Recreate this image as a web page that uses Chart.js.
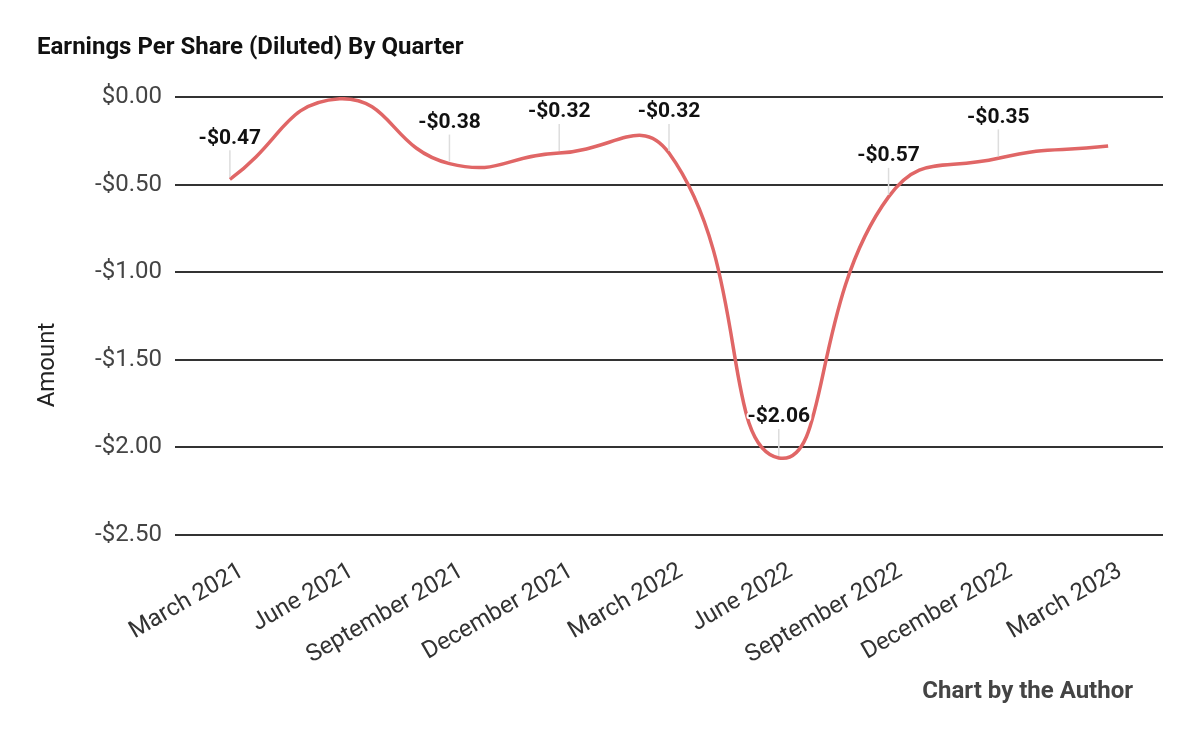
<!DOCTYPE html>
<html lang="en">

<head>
    <meta charset="UTF-8">
    <script src="https://cdn.jsdelivr.net/npm/chart.js"></script>
    <title>Earnings Per Share (Diluted) By Quarter</title>
    <style>
        html, body { margin: 0; padding: 0; background: #fff; }
        #wrap { width: 1200px; height: 742px; }
    </style>
</head>

<body>
    <div id="wrap"><canvas id="myChart" width="1200" height="742"></canvas></div>
    <script>
        // Données
        const quarters = ['March 2021', 'June 2021', 'September 2021', 'December 2021', 'March 2022',
            'June 2022', 'September 2022', 'December 2022', 'March 2023'];
        const eps = [-0.47, -0.01, -0.38, -0.32, -0.32, -2.06, -0.57, -0.35, -0.28];
        // annotations shown on the chart (null = none)
        const pointLabels = ['-$0.47', null, '-$0.38', '-$0.32', '-$0.32', '-$2.06', '-$0.57', '-$0.35', null];
        const yTicks = [0, -0.5, -1, -1.5, -2, -2.5];

        const money = (v) => (v < 0 ? '-$' : '$') + Math.abs(v).toFixed(2);

        // titre, titre d'axe, annotations, pied
        const decorations = {
            id: 'decorations',
            afterDatasetsDraw(chart) {
                const ctx = chart.ctx;
                const meta = chart.getDatasetMeta(0);
                ctx.save();
                meta.data.forEach((pt, i) => {
                    if (!pointLabels[i]) return;
                    const x = pt.x, y = pt.y;
                    ctx.strokeStyle = '#dddddd';
                    ctx.lineWidth = 1.5;
                    ctx.beginPath();
                    ctx.moveTo(x, y - 2);
                    ctx.lineTo(x, y - 29);
                    ctx.stroke();
                    ctx.font = 'bold 21px Roboto';
                    ctx.textAlign = 'center';
                    ctx.textBaseline = 'middle';
                    ctx.lineJoin = 'round';
                    ctx.strokeStyle = '#ffffff';
                    ctx.lineWidth = 4;
                    ctx.strokeText(pointLabels[i], x, y - 41);
                    ctx.fillStyle = '#111111';
                    ctx.fillText(pointLabels[i], x, y - 41);
                });
                ctx.restore();
            },
            afterDraw(chart) {
                const ctx = chart.ctx;
                ctx.save();
                ctx.fillStyle = '#111111';
                ctx.font = 'bold 24px Roboto';
                ctx.textAlign = 'left';
                ctx.textBaseline = 'middle';
                ctx.fillText('Earnings Per Share (Diluted) By Quarter', 37, 48);

                ctx.fillStyle = '#444444';
                ctx.font = 'bold 24px Roboto';
                ctx.textAlign = 'right';
                ctx.fillText('Chart by the Author', 1133, 692);

                ctx.translate(48, 365);
                ctx.rotate(-Math.PI / 2);
                ctx.fillStyle = '#222222';
                ctx.font = '24px Roboto';
                ctx.textAlign = 'center';
                ctx.fillText('Amount', 0, 0);
                ctx.restore();
            }
        };

        const chartConfig = {
            type: 'line',
            data: {
                labels: quarters,
                datasets: [{
                    label: 'EPS',
                    data: eps,
                    borderColor: '#e06666',
                    borderWidth: 3.5,
                    tension: 0.5,
                    pointRadius: 0,
                    fill: false,
                }],
            },
            options: {
                responsive: false,
                animation: false,
                layout: { padding: { top: 97, right: 37, bottom: 0, left: 0 } },
                plugins: {
                    legend: { display: false },
                    tooltip: { enabled: false },
                },
                scales: {
                    x: {
                        offset: true,
                        grid: { display: false },
                        border: { display: false },
                        ticks: {
                            minRotation: 30,
                            maxRotation: 30,
                            autoSkip: false,
                            padding: 14,
                            labelOffset: 12,
                            color: '#333333',
                            font: { family: 'Roboto', size: 24 },
                        },
                        afterFit(scale) { scale.height = 742 - 535; },
                    },
                    y: {
                        min: -2.5,
                        max: 0,
                        afterBuildTicks(scale) { scale.ticks = yTicks.map(v => ({ value: v })); },
                        grid: { color: '#333333', lineWidth: 2, drawTicks: false },
                        border: { display: false },
                        ticks: {
                            padding: 13,
                            color: '#444444',
                            font: { family: 'Roboto', size: 24 },
                            callback: (v) => money(v),
                        },
                        afterFit(scale) { scale.width = 175; },
                    },
                },
            },
            plugins: [decorations],
        };

        const ctx = document.getElementById('myChart').getContext('2d');
        const myChart = new Chart(ctx, chartConfig);
    </script>
</body>

</html>
